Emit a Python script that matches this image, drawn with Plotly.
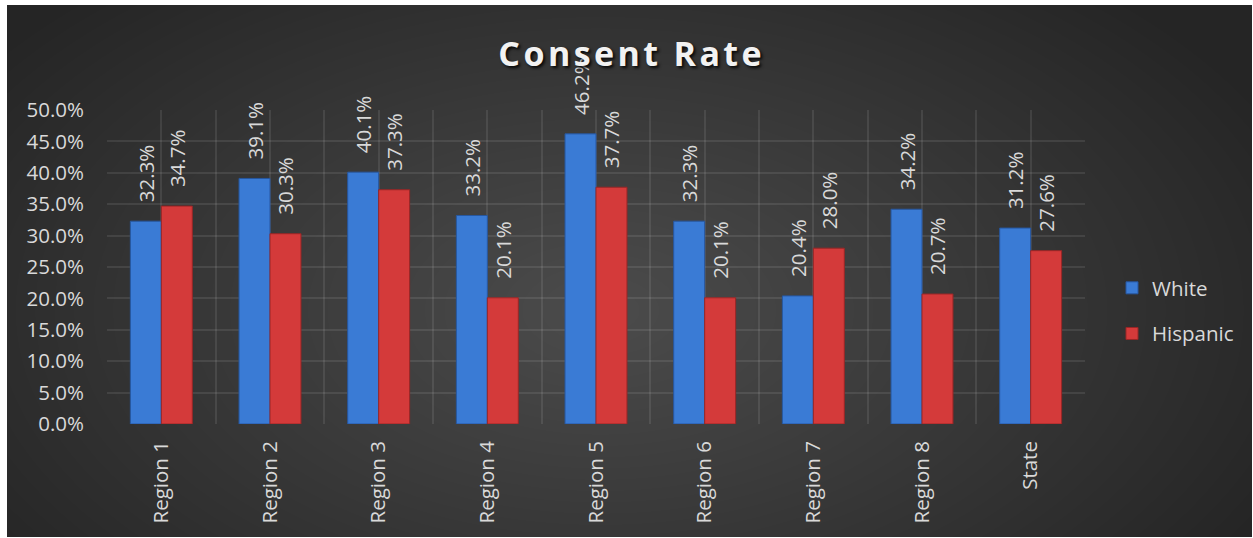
import base64, struct, zlib
import numpy as np
import plotly.graph_objects as go

# ---------------- data ----------------
categories = ["Region 1", "Region 2", "Region 3", "Region 4", "Region 5",
              "Region 6", "Region 7", "Region 8", "State"]
white = [0.323, 0.391, 0.401, 0.332, 0.462, 0.323, 0.204, 0.342, 0.312]
hispanic = [0.347, 0.303, 0.373, 0.201, 0.377, 0.201, 0.280, 0.207, 0.276]
y_ticks = [0.0, 0.05, 0.10, 0.15, 0.20, 0.25, 0.30, 0.35, 0.40, 0.45, 0.50]

# ---------------- geometry ----------------
W, H = 1253, 538
L, R, T, B = 107, 168, 110, 114          # plot area margins
PW, PH = W - L - R, H - T - B
BG_X0, BG_X1, BG_Y0, BG_Y1 = 7, 1252, 5, 537   # dark card inside white frame

# ---------------- radial gradient background (PNG) ----------------
def make_png(arr):
    h, w, _ = arr.shape
    raw = b"".join(b"\x00" + arr[i].tobytes() for i in range(h))
    def chunk(tag, data):
        c = struct.pack(">I", len(data)) + tag + data
        return c + struct.pack(">I", zlib.crc32(tag + data) & 0xffffffff)
    return (b"\x89PNG\r\n\x1a\n" + chunk(b"IHDR", struct.pack(">IIBBBBB", w, h, 8, 2, 0, 0, 0))
            + chunk(b"IDAT", zlib.compress(raw, 9)) + chunk(b"IEND", b""))

gw, gh = BG_X1 - BG_X0, BG_Y1 - BG_Y0
gx = np.arange(gw)[None, :] + BG_X0
gy = np.arange(gh)[:, None] + BG_Y0
cx, cy, rx, ry = 600, 310, 760, 440
d = np.sqrt(((gx - cx) / rx) ** 2 + ((gy - cy) / ry) ** 2)
d = np.clip(d, 0, 1)
c_in, c_out = 76, 37
val = (c_in + (c_out - c_in) * d).astype(np.uint8)
img = np.stack([val, val, val], axis=-1)
src = "data:image/png;base64," + base64.b64encode(make_png(img)).decode()

def px_to_paper_x(px):
    return (px - L) / PW

def px_to_paper_y(py):
    return (H - B - py) / PH

# ---------------- figure ----------------
FONT = "Open Sans"
TXT = "#d9d9d9"
GRID = "rgba(255,255,255,0.09)"
FS = 20.5
lbl_pad = "\u00a0\u00a0\u00a0"

fig = go.Figure()
fig.add_trace(go.Bar(
    name="White", x=categories, y=white,
    marker=dict(color="#3a7bd5", line=dict(color="#2657a0", width=1)),
    text=white, texttemplate=lbl_pad + "%{y:.1%}", textposition="outside",
    textangle=-90, cliponaxis=False, constraintext="none",
    textfont=dict(family=FONT, size=FS, color=TXT),
    legendgroup="w",
))
fig.add_trace(go.Bar(
    name="Hispanic", x=categories, y=hispanic,
    marker=dict(color="#d43a3a", line=dict(color="#9a2626", width=1)),
    text=hispanic, texttemplate=lbl_pad + "%{y:.1%}", textposition="outside",
    textangle=-90, cliponaxis=False, constraintext="none",
    textfont=dict(family=FONT, size=FS, color=TXT),
    legendgroup="h",
))
# helper (invisible) trace so the overlay axis knows the categories -> center gridlines
fig.add_trace(go.Scatter(
    x=categories, y=[0] * len(categories), xaxis="x2", yaxis="y",
    mode="markers", marker=dict(opacity=0), showlegend=False, hoverinfo="skip",
))

title_txt = "\u200a".join("Consent Rate")
fig.update_layout(
    width=W, height=H,
    margin=dict(l=L, r=R, t=T, b=B),
    paper_bgcolor="white",
    plot_bgcolor="rgba(0,0,0,0)",
    barmode="group", bargap=0.43, bargroupgap=0,
    title=dict(text=title_txt, x=630 / W, xanchor="center", y=1 - 54 / H,
               yanchor="middle", xref="container", yref="container",
               font=dict(family=FONT, size=34, color="#f2f2f2", weight="bold",
                         shadow="2px 2px 3px rgba(0,0,0,0.85)")),
    legend=dict(x=px_to_paper_x(1112), y=px_to_paper_y(311), xanchor="left",
                yanchor="middle", bgcolor="rgba(0,0,0,0)",
                font=dict(family=FONT, size=FS, color=TXT),
                tracegroupgap=16, itemwidth=30),
    xaxis=dict(type="category", tickson="boundaries", showgrid=True,
               gridcolor=GRID, gridwidth=1.5, showline=False, zeroline=False,
               ticks="", tickangle=-90, ticklabelstandoff=12,
               tickfont=dict(family=FONT, size=FS, color=TXT),
               range=[-0.5, len(categories) - 0.5]),
    xaxis2=dict(type="category", overlaying="x", matches="x", showgrid=True,
                gridcolor=GRID, gridwidth=1.5, showticklabels=False, ticks="",
                showline=False, zeroline=False),
    yaxis=dict(range=[0, 0.5], tickvals=y_ticks, tickformat=".1%",
               showgrid=True, gridcolor=GRID, gridwidth=1.5, zeroline=False,
               showline=False, ticks="", ticklabelstandoff=22,
               tickfont=dict(family=FONT, size=FS, color=TXT)),
    images=[dict(source=src, xref="paper", yref="paper",
                 x=px_to_paper_x(BG_X0), y=px_to_paper_y(BG_Y0),
                 sizex=(BG_X1 - BG_X0) / PW, sizey=(BG_Y1 - BG_Y0) / PH,
                 xanchor="left", yanchor="top", sizing="stretch", layer="below")],
    showlegend=True,
)

fig.write_html("out.html")
